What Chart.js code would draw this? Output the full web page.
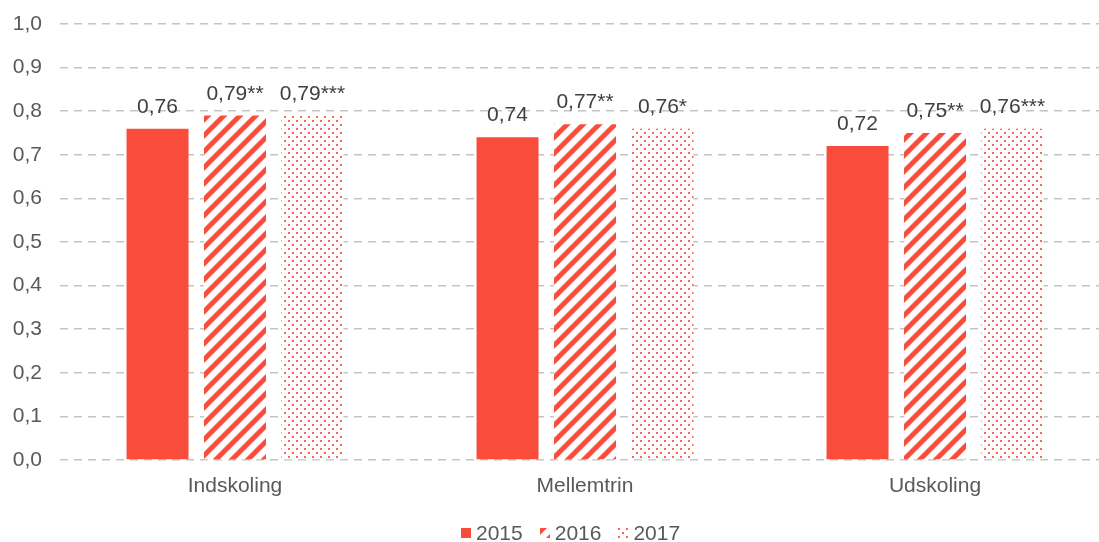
<!DOCTYPE html>
<html>
<head>
<meta charset="utf-8">
<script src="https://cdn.jsdelivr.net/npm/chart.js@4.4.1/dist/chart.umd.min.js"></script>
<style>
  html, body { margin: 0; padding: 0; background: #fff; overflow: hidden; }
  #wrap { position: relative; width: 1110px; height: 542px; }
  #legend { position: absolute; top: 521px; left: 461px; display: flex; align-items: center;
            font-family: "Liberation Sans", Arial, sans-serif; font-size: 21px; color: #595959; line-height: 24px; }
  #legend .item { display: flex; align-items: center; margin-right: 17px; }
  #legend canvas { width: 10px; height: 10px; margin-right: 5px; display: block; }
</style>
</head>
<body>
<div id="wrap">
  <canvas id="c"></canvas>
  <div id="legend"></div>
</div>
<script>
// ---- data ----
const categories = ["Indskoling", "Mellemtrin", "Udskoling"];
const seriesNames = ["2015", "2016", "2017"];
const values2015 = [0.76, 0.74, 0.72];
const values2016 = [0.79, 0.77, 0.75];
const values2017 = [0.79, 0.76, 0.76];
const sig2015 = ["", "", ""];
const sig2016 = ["**", "**", "**"];
const sig2017 = ["***", "*", "***"];
const yTicks = [0, 0.1, 0.2, 0.3, 0.4, 0.5, 0.6, 0.7, 0.8, 0.9, 1.0];

const RED = "#F94C3B";

function stripePattern() {
  const s = 16;
  const c = document.createElement("canvas");
  c.width = s; c.height = s;
  const g = c.getContext("2d");
  g.fillStyle = "#fff"; g.fillRect(0, 0, s, s);
  g.fillStyle = RED;
  const w = 7;
  for (let k = -1; k <= 1; k++) {
    const o = k * s;
    g.beginPath();
    g.moveTo(o, s);
    g.lineTo(o + w, s);
    g.lineTo(o + w + s, 0);
    g.lineTo(o + s, 0);
    g.closePath();
    g.fill();
  }
  return c;
}
function dotPattern() {
  const s = 8;
  const c = document.createElement("canvas");
  c.width = s; c.height = s;
  const g = c.getContext("2d");
  g.fillStyle = "#fff"; g.fillRect(0, 0, s, s);
  g.fillStyle = RED;
  g.globalAlpha = 0.85;
  g.fillRect(0, 0, 2, 2);
  g.fillRect(4, 4, 2, 2);
  return c;
}
const ctxMain = document.getElementById("c").getContext("2d");
const stripeCanvas = stripePattern();
const dotCanvas = dotPattern();
const fills = [RED, ctxMain.createPattern(stripeCanvas, "repeat"), ctxMain.createPattern(dotCanvas, "repeat")];

function fmt(v) { return v.toFixed(2).replace(".", ","); }

const labelPlugin = {
  id: "valueLabels",
  afterDatasetsDraw(chart) {
    const ctx = chart.ctx;
    ctx.save();
    ctx.font = '21px "Liberation Sans", Arial, sans-serif';
    ctx.fillStyle = "#404040";
    ctx.textAlign = "center";
    ctx.textBaseline = "alphabetic";
    chart.data.datasets.forEach((ds, i) => {
      const meta = chart.getDatasetMeta(i);
      meta.data.forEach((bar, j) => {
        ctx.fillText(fmt(ds.data[j]) + ds.sig[j], bar.x, bar.y - 16);
      });
    });
    ctx.restore();
  }
};

const font = { family: '"Liberation Sans", Arial, sans-serif', size: 21 };

new Chart(ctxMain, {
  type: "bar",
  data: {
    labels: categories,
    datasets: [
      { label: seriesNames[0], data: values2015, sig: sig2015, backgroundColor: fills[0] },
      { label: seriesNames[1], data: values2016, sig: sig2016, backgroundColor: fills[1] },
      { label: seriesNames[2], data: values2017, sig: sig2017, backgroundColor: fills[2] }
    ]
  },
  options: {
    responsive: true,
    maintainAspectRatio: false,
    animation: false,
    devicePixelRatio: 1,
    layout: { padding: { top: 24, right: 0, bottom: 42, left: 0 } },
    categoryPercentage: 0.664,
    barPercentage: 0.8,
    plugins: { legend: { display: false }, tooltip: { enabled: false } },
    scales: {
      x: {
        offset: true,
        grid: { display: false, drawTicks: false },
        border: { display: false },
        ticks: { color: "#595959", font: font, padding: 14 },
        afterFit(scale) { scale.height = 40; scale.paddingLeft = 0; scale.paddingRight = 0; }
      },
      y: {
        min: 0, max: 1,
        afterBuildTicks(scale) { scale.ticks = yTicks.map(v => ({ value: v })); },
        grid: { color: "#C4C4C4", lineWidth: 1.5, drawTicks: false },
        border: { display: false, dash: [8, 6] },
        ticks: { color: "#595959", font: font, padding: 18,
                 callback: v => v.toFixed(1).replace(".", ",") },
        afterFit(scale) { scale.width = 60; scale.paddingTop = 0; scale.paddingBottom = 0; }
      }
    }
  },
  plugins: [labelPlugin]
});

// HTML legend
const legend = document.getElementById("legend");
seriesNames.forEach((name, i) => {
  const item = document.createElement("div");
  item.className = "item";
  const sw = document.createElement("canvas");
  sw.width = 10; sw.height = 10;
  const g = sw.getContext("2d");
  g.fillStyle = i === 0 ? RED : g.createPattern(i === 1 ? stripeCanvas : dotCanvas, "repeat");
  g.fillRect(0, 0, 10, 10);
  const t = document.createElement("span");
  t.textContent = name;
  item.appendChild(sw); item.appendChild(t);
  legend.appendChild(item);
});
</script>
</body>
</html>
